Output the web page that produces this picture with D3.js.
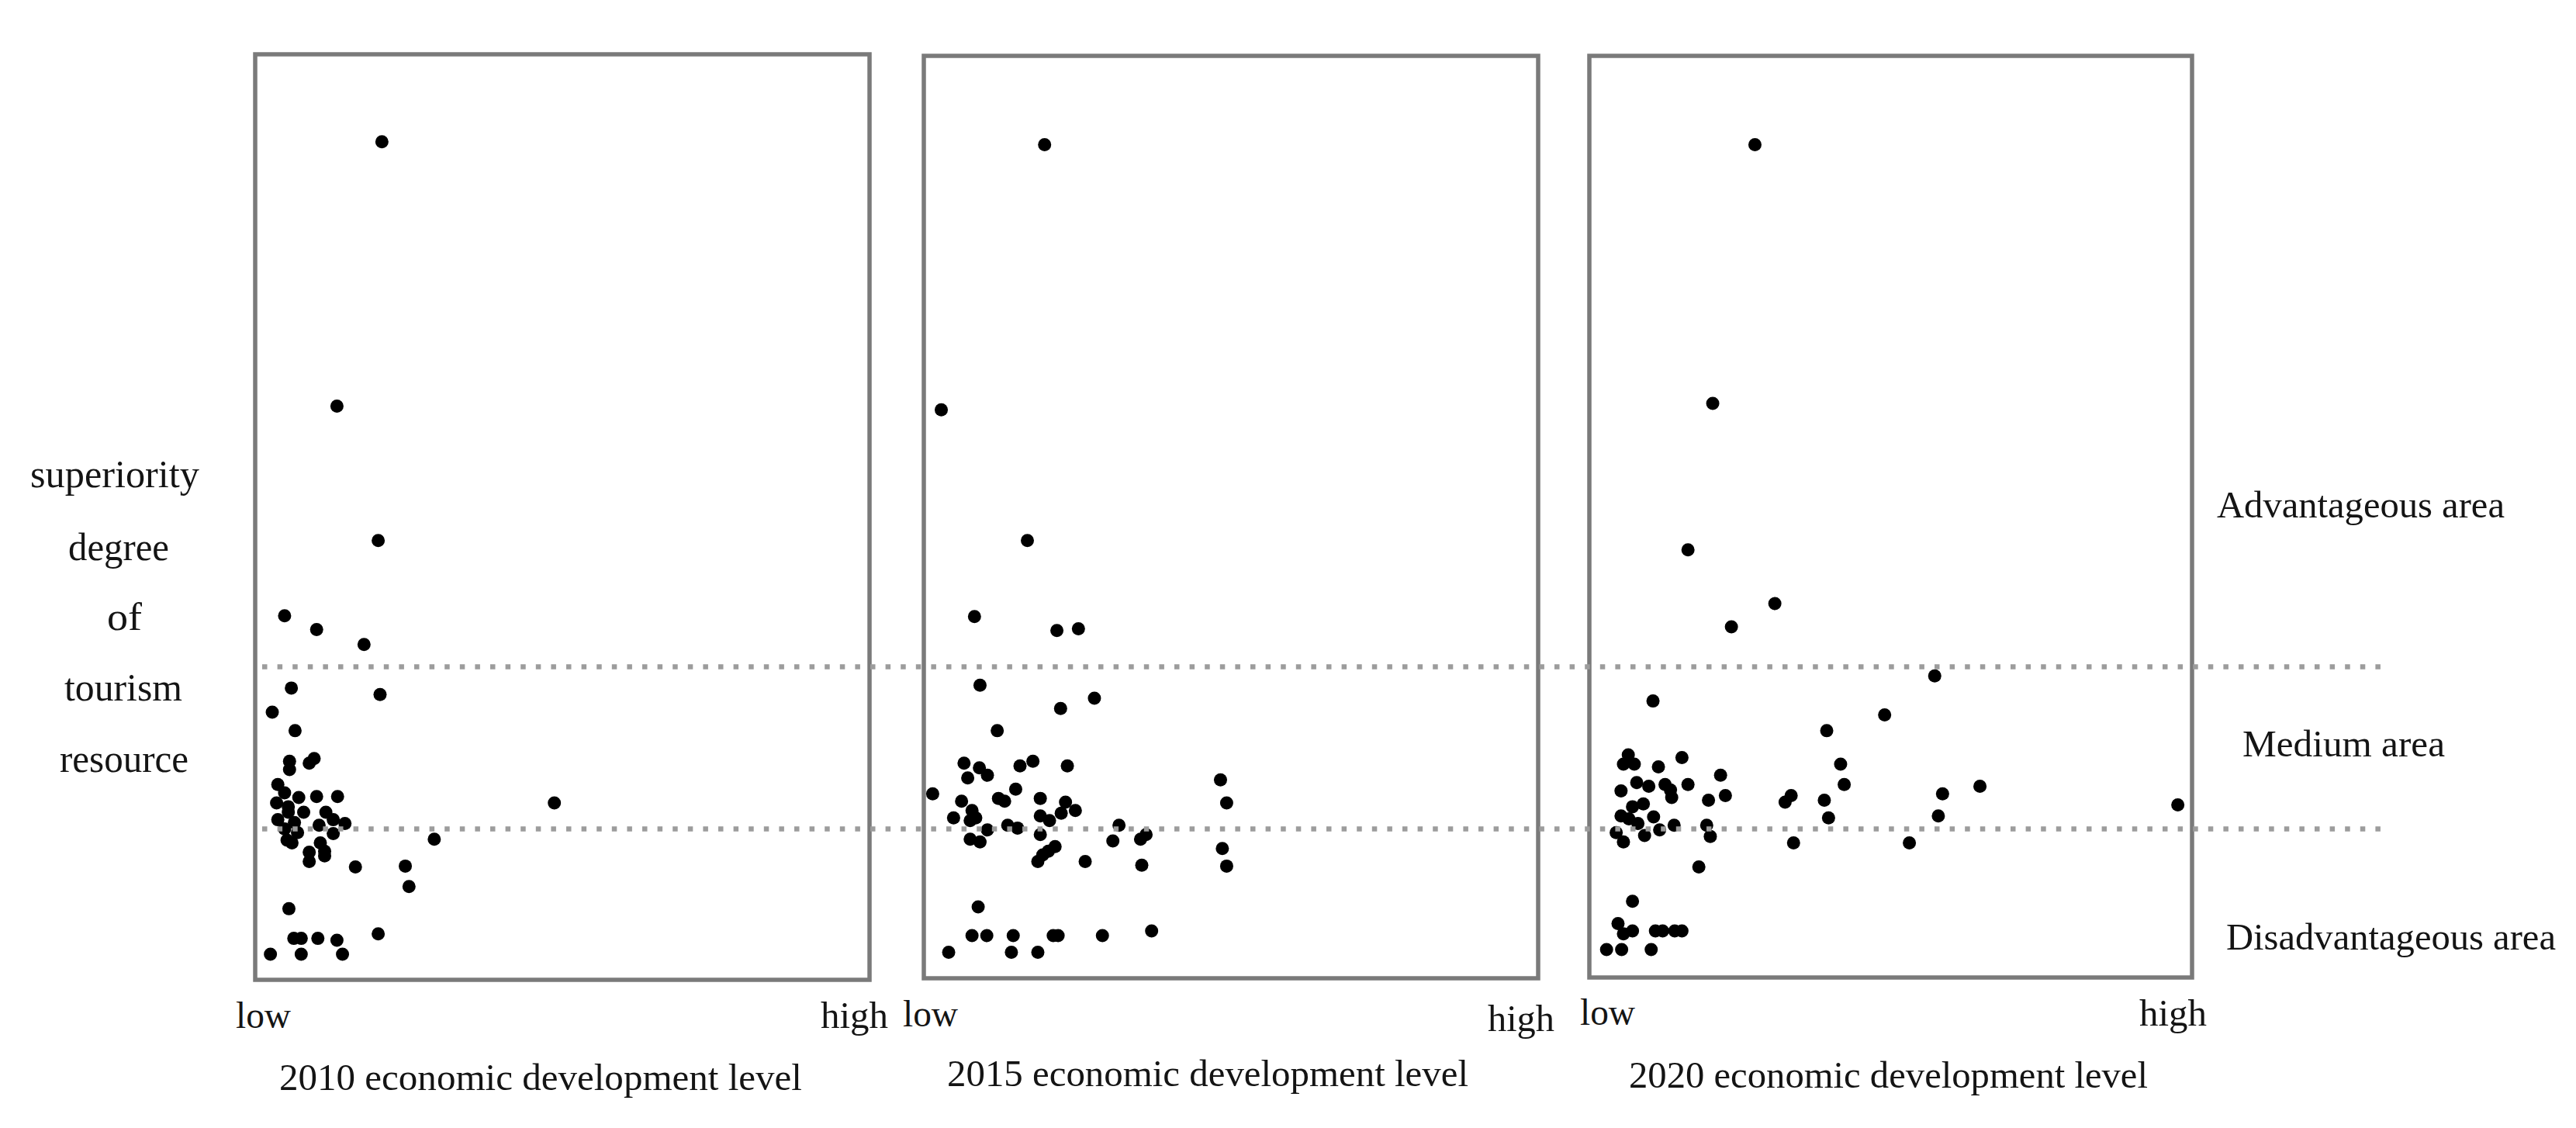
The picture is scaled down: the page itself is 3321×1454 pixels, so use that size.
<!DOCTYPE html>
<html>
<head>
<meta charset="utf-8">
<script src="https://cdn.jsdelivr.net/npm/d3@7/dist/d3.min.js"></script>
<style>
  html, body { margin: 0; padding: 0; background: #ffffff; }
  svg { display: block; }
  text { font-family: "Liberation Serif", "DejaVu Serif", serif; fill: #141414; }
</style>
</head>
<body>
<svg id="chart" width="3321" height="1454"></svg>
<script>
// ---------------- DATA ----------------
// x: economic development level (0 = low, 100 = high), y: superiority degree of tourism resource (0-100)
const years = ["2010", "2015", "2020"];
const xAxisLabels = ["low", "high"];
const yTitleWords = ["superiority", "degree", "of", "tourism", "resource"];
const areaLabels = ["Advantageous area", "Medium area", "Disadvantageous area"];
const areaThresholds = [33.9, 16.4];

const points2010 = [
  [20.7, 90.5], [13.4, 62.0], [20.1, 47.5], [4.9, 39.4], [10.1, 37.9], [17.8, 36.3],
  [6.0, 31.6], [20.4, 30.9], [2.9, 29.0], [6.6, 27.0],
  [5.7, 23.7], [5.7, 22.8], [8.9, 23.5], [9.7, 24.0], [3.8, 21.2], [4.9, 20.3],
  [7.2, 19.8], [10.1, 19.9], [13.5, 19.9], [3.6, 19.2], [5.5, 18.8], [5.5, 18.2],
  [8.0, 18.2], [11.6, 18.2], [3.8, 17.4], [6.5, 17.1], [10.5, 16.8], [12.8, 17.4],
  [14.7, 17.0], [4.9, 16.4], [7.0, 16.0], [5.3, 15.2], [6.1, 14.9], [12.8, 15.9],
  [10.7, 14.9], [8.9, 13.9], [8.9, 12.9], [11.4, 14.0], [11.4, 13.5], [16.4, 12.3],
  [48.7, 19.2], [29.2, 15.3], [24.5, 12.4], [25.1, 10.2], [5.6, 7.8],
  [6.4, 4.6], [7.6, 4.6], [10.3, 4.6], [13.4, 4.4], [20.1, 5.1],
  [2.6, 2.9], [7.6, 2.9], [14.3, 2.9]
];

const points2015 = [
  [19.6, 90.2], [2.8, 61.6], [16.8, 47.5], [8.2, 39.3], [21.6, 37.8], [25.1, 38.0],
  [9.1, 31.9], [27.7, 30.5], [22.2, 29.4], [11.9, 27.0],
  [6.5, 23.5], [9.0, 23.0], [10.3, 22.2], [7.1, 21.9], [15.6, 23.2], [17.7, 23.7],
  [23.3, 23.2], [1.4, 20.2], [6.1, 19.4], [12.1, 19.7], [13.1, 19.4], [14.9, 20.7],
  [18.9, 19.7], [23.0, 19.3], [24.6, 18.4], [22.3, 18.1], [7.8, 18.4], [4.8, 17.6],
  [7.5, 17.3], [8.4, 17.6], [18.9, 17.8], [20.4, 17.3], [13.6, 16.8], [15.2, 16.5],
  [10.3, 16.3], [18.9, 15.8], [7.5, 15.3], [9.1, 15.0], [21.3, 14.5], [20.2, 14.0],
  [19.3, 13.6], [18.5, 12.9], [26.2, 12.9], [31.7, 16.8], [30.7, 15.1], [35.2, 15.3],
  [36.1, 15.8], [35.4, 12.5], [48.2, 21.7], [49.2, 19.2], [48.5, 14.3], [49.2, 12.4],
  [8.8, 8.0], [7.8, 4.9], [10.2, 4.9], [14.5, 4.9], [21.0, 4.9], [21.8, 4.9],
  [29.0, 4.9], [37.0, 5.4], [4.0, 3.1], [14.2, 3.1], [18.5, 3.1]
];

const points2020 = [
  [27.4, 90.2], [20.4, 62.3], [16.3, 46.5], [30.7, 40.7], [23.5, 38.2], [57.2, 32.9],
  [10.5, 30.2], [48.9, 28.7], [39.3, 27.0], [41.6, 23.4], [42.2, 21.2], [33.4, 20.0],
  [32.4, 19.3], [38.9, 19.5], [39.6, 17.6], [33.8, 14.9], [58.5, 20.2], [57.8, 17.8],
  [64.7, 21.0], [53.0, 14.9], [97.5, 19.0], [18.1, 12.3], [7.1, 8.6], [4.7, 6.2],
  [5.6, 5.1], [7.1, 5.4], [10.9, 5.4], [12.1, 5.4], [14.1, 5.4], [15.3, 5.4],
  [2.8, 3.4], [5.3, 3.4], [10.2, 3.4],
  [5.6, 23.4], [6.4, 24.4], [7.4, 23.4], [11.4, 23.1], [15.3, 24.1], [21.7, 22.2],
  [7.8, 21.4], [9.8, 21.0], [12.5, 21.2], [13.4, 20.6], [13.6, 19.8], [16.3, 21.2],
  [5.2, 20.5], [19.7, 19.5], [22.5, 20.0], [7.1, 18.8], [8.9, 19.1], [5.2, 17.8],
  [6.5, 17.5], [8.0, 17.0], [10.6, 17.7], [11.6, 16.3], [14.0, 16.8], [4.4, 16.0],
  [5.6, 15.0], [9.1, 15.7], [19.4, 16.8], [20.0, 15.6]
];

const seriesPoints = [points2010, points2015, points2020];

// ---------------- LAYOUT ----------------
const svg = d3.select("#chart");
const panels = [
  { frame: [329, 70, 1121, 1263], range: [328, 1122], low: [304, 1325, 71], high: [1058, 1325, 87], title: [360, 1405, 674] },
  { frame: [1191, 72, 1983, 1261], range: [1191.3, 1984.2], low: [1164, 1323, 71], high: [1918, 1329, 86], title: [1221, 1400, 672] },
  { frame: [2049, 72, 2826, 1260], range: [2049.4, 2827.1], low: [2037, 1321, 71], high: [2758, 1322, 87], title: [2100, 1402, 669] }
];
const y = d3.scaleLinear().domain([0, 100]).range([1264.6, 69.3]);
const fs = 48;

// frames
panels.forEach((p) => {
  const [x0, y0, x1, y1] = p.frame;
  svg.append("rect")
    .attr("x", x0).attr("y", y0)
    .attr("width", x1 - x0).attr("height", y1 - y0)
    .attr("fill", "none").attr("stroke", "#7a7a7a").attr("stroke-width", 5.5);
});

// points
panels.forEach((p, i) => {
  const x = d3.scaleLinear().domain([0, 100]).range(p.range);
  svg.append("g").selectAll("circle")
    .data(seriesPoints[i])
    .join("circle")
    .attr("cx", d => x(d[0]))
    .attr("cy", d => y(d[1]))
    .attr("r", 8.5)
    .attr("fill", "#000");
});

// dotted threshold lines (drawn over the points)
svg.append("g").selectAll("line")
  .data(areaThresholds)
  .join("line")
  .attr("x1", 338).attr("x2", 3073)
  .attr("y1", d => y(d)).attr("y2", d => y(d))
  .attr("stroke", "#9c9c9c")
  .attr("stroke-width", 6.5)
  .attr("stroke-dasharray", "6.5 13.1");

// axis end labels and titles
panels.forEach((p, i) => {
  svg.append("text").attr("x", p.low[0]).attr("y", p.low[1])
    .attr("font-size", fs).attr("textLength", p.low[2]).attr("lengthAdjust", "spacingAndGlyphs")
    .text(xAxisLabels[0]);
  svg.append("text").attr("x", p.high[0]).attr("y", p.high[1])
    .attr("font-size", fs).attr("textLength", p.high[2]).attr("lengthAdjust", "spacingAndGlyphs")
    .text(xAxisLabels[1]);
  svg.append("text").attr("x", p.title[0]).attr("y", p.title[1])
    .attr("font-size", fs).attr("textLength", p.title[2]).attr("lengthAdjust", "spacingAndGlyphs")
    .text(years[i] + " economic development level");
});

// y title (stacked words)
const yTitlePos = [[39, 628, 218], [88, 722, 130], [138, 812, 45], [83, 903, 152], [77, 995, 166]];
yTitleWords.forEach((w, i) => {
  const [px, py, len] = yTitlePos[i];
  svg.append("text").attr("x", px).attr("y", py)
    .attr("font-size", 50).attr("textLength", len).attr("lengthAdjust", "spacingAndGlyphs")
    .text(w);
});

// area labels on the right
const areaPos = [[2858, 667, 371], [2891, 975, 261], [2870, 1224, 425]];
areaLabels.forEach((t, i) => {
  const [px, py, len] = areaPos[i];
  svg.append("text").attr("x", px).attr("y", py)
    .attr("font-size", fs).attr("textLength", len).attr("lengthAdjust", "spacingAndGlyphs")
    .text(t);
});
</script>
</body>
</html>
